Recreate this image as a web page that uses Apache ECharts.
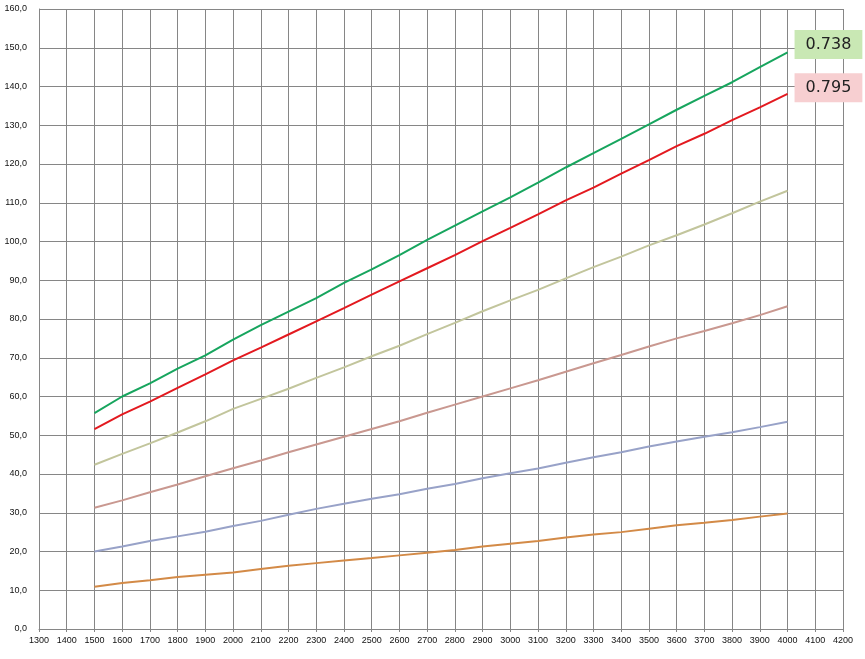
<!DOCTYPE html>
<html>
<head>
<meta charset="utf-8">
<script src="https://cdn.jsdelivr.net/npm/echarts@6/dist/echarts.min.js"></script>
<style>
  html, body { margin: 0; padding: 0; background: #fff; }
  #chart { width: 865px; height: 659px; }
</style>
</head>
<body>
<div id="chart"></div>
<script>
// x positions (every 100 from 1500 to 4000)
const xValues = [1500, 1600, 1700, 1800, 1900, 2000, 2100, 2200, 2300, 2400, 2500, 2600, 2700,
  2800, 2900, 3000, 3100, 3200, 3300, 3400, 3500, 3600, 3700, 3800, 3900, 4000];

const greenLine = [55.7, 60.0, 63.4, 67.2, 70.6, 74.7, 78.4, 81.9, 85.4, 89.3, 92.8, 96.5, 100.4,
  104.1, 107.8, 111.4, 115.2, 119.1, 122.8, 126.5, 130.2, 134.0, 137.6, 141.1, 145.0, 148.8];
const redLine = [51.6, 55.4, 58.7, 62.2, 65.7, 69.3, 72.6, 76.0, 79.4, 82.8, 86.3, 89.7, 93.1,
  96.5, 100.1, 103.5, 107.0, 110.6, 113.9, 117.5, 121.0, 124.6, 127.8, 131.3, 134.6, 138.1];
const khakiLine = [42.4, 45.2, 47.9, 50.7, 53.6, 56.8, 59.4, 62.0, 64.8, 67.5, 70.4, 73.1, 76.1,
  79.0, 82.0, 84.8, 87.5, 90.5, 93.4, 96.1, 99.0, 101.6, 104.4, 107.3, 110.3, 113.1];
const rosyLine = [31.3, 33.2, 35.3, 37.3, 39.4, 41.5, 43.5, 45.6, 47.6, 49.6, 51.6, 53.6, 55.8,
  57.9, 60.0, 62.1, 64.2, 66.4, 68.6, 70.7, 72.9, 75.0, 76.9, 78.9, 81.0, 83.3];
const blueLine = [20.0, 21.3, 22.7, 23.9, 25.1, 26.6, 27.9, 29.5, 31.0, 32.3, 33.6, 34.8, 36.2,
  37.4, 38.9, 40.2, 41.4, 42.9, 44.3, 45.6, 47.1, 48.4, 49.6, 50.8, 52.1, 53.5];
const orangeLine = [10.9, 11.9, 12.6, 13.4, 14.0, 14.6, 15.5, 16.3, 17.0, 17.7, 18.3, 19.0, 19.7,
  20.4, 21.3, 22.0, 22.7, 23.6, 24.4, 25.0, 25.9, 26.8, 27.4, 28.1, 29.0, 29.8];

// notes shown at the end of the two top lines
const endNotes = ['0.738', '0.795'];

const chart = echarts.init(document.getElementById('chart'));

const gridColor = '#868686';
const labelFont = "'Liberation Sans', Arial, sans-serif";

const toPairs = (vals) => vals.map((v, i) => [xValues[i], v]);

const makeLine = (name, vals, color, note, noteBg, noteShift) => {
  const s = {
    name,
    type: 'line',
    data: toPairs(vals),
    symbol: 'none',
    smooth: false,
    lineStyle: { color, width: 2 },
    itemStyle: { color },
    silent: true,
  };
  if (note) {
    s.endLabel = {
      show: true,
      formatter: () => note,
      distance: 7,
      offset: [0, noteShift],
      backgroundColor: noteBg,
      padding: [7, 11, 6, 11],
      color: '#222',
      fontSize: 16,
      fontFamily: "'DejaVu Sans', sans-serif",
    };
  }
  return s;
};

const option = {
  backgroundColor: '#fff',
  animation: false,
  grid: { left: 39, right: 22, top: 9, bottom: 30, containLabel: false },
  xAxis: {
    type: 'value',
    min: 1300,
    max: 4200,
    interval: 100,
    axisLine: { show: true, onZero: false, lineStyle: { color: gridColor, width: 1 } },
    axisTick: { show: true, length: 3, lineStyle: { color: gridColor } },
    axisLabel: {
      color: '#111',
      fontSize: 9,
      fontFamily: labelFont,
      margin: 7,
      formatter: (v) => String(v),
    },
    splitLine: { show: true, lineStyle: { color: gridColor, width: 1 } },
  },
  yAxis: {
    type: 'value',
    min: 0,
    max: 160,
    interval: 10,
    axisLine: { show: true, lineStyle: { color: gridColor, width: 1 } },
    axisTick: { show: false },
    axisLabel: {
      color: '#111',
      fontSize: 9,
      fontFamily: labelFont,
      margin: 12,
      formatter: (v) => v.toFixed(1).replace('.', ','),
    },
    splitLine: { show: true, lineStyle: { color: gridColor, width: 1 } },
  },
  series: [
    makeLine('green', greenLine, '#17a55e', endNotes[0], '#c9e8b4', -8),
    makeLine('red', redLine, '#e3191f', endNotes[1], '#f7cfd1', -6),
    makeLine('khaki', khakiLine, '#c2c59c'),
    makeLine('rosy', rosyLine, '#c99890'),
    makeLine('blue', blueLine, '#98a2c8'),
    makeLine('orange', orangeLine, '#d38a47'),
  ],
};

chart.setOption(option);
</script>
</body>
</html>
